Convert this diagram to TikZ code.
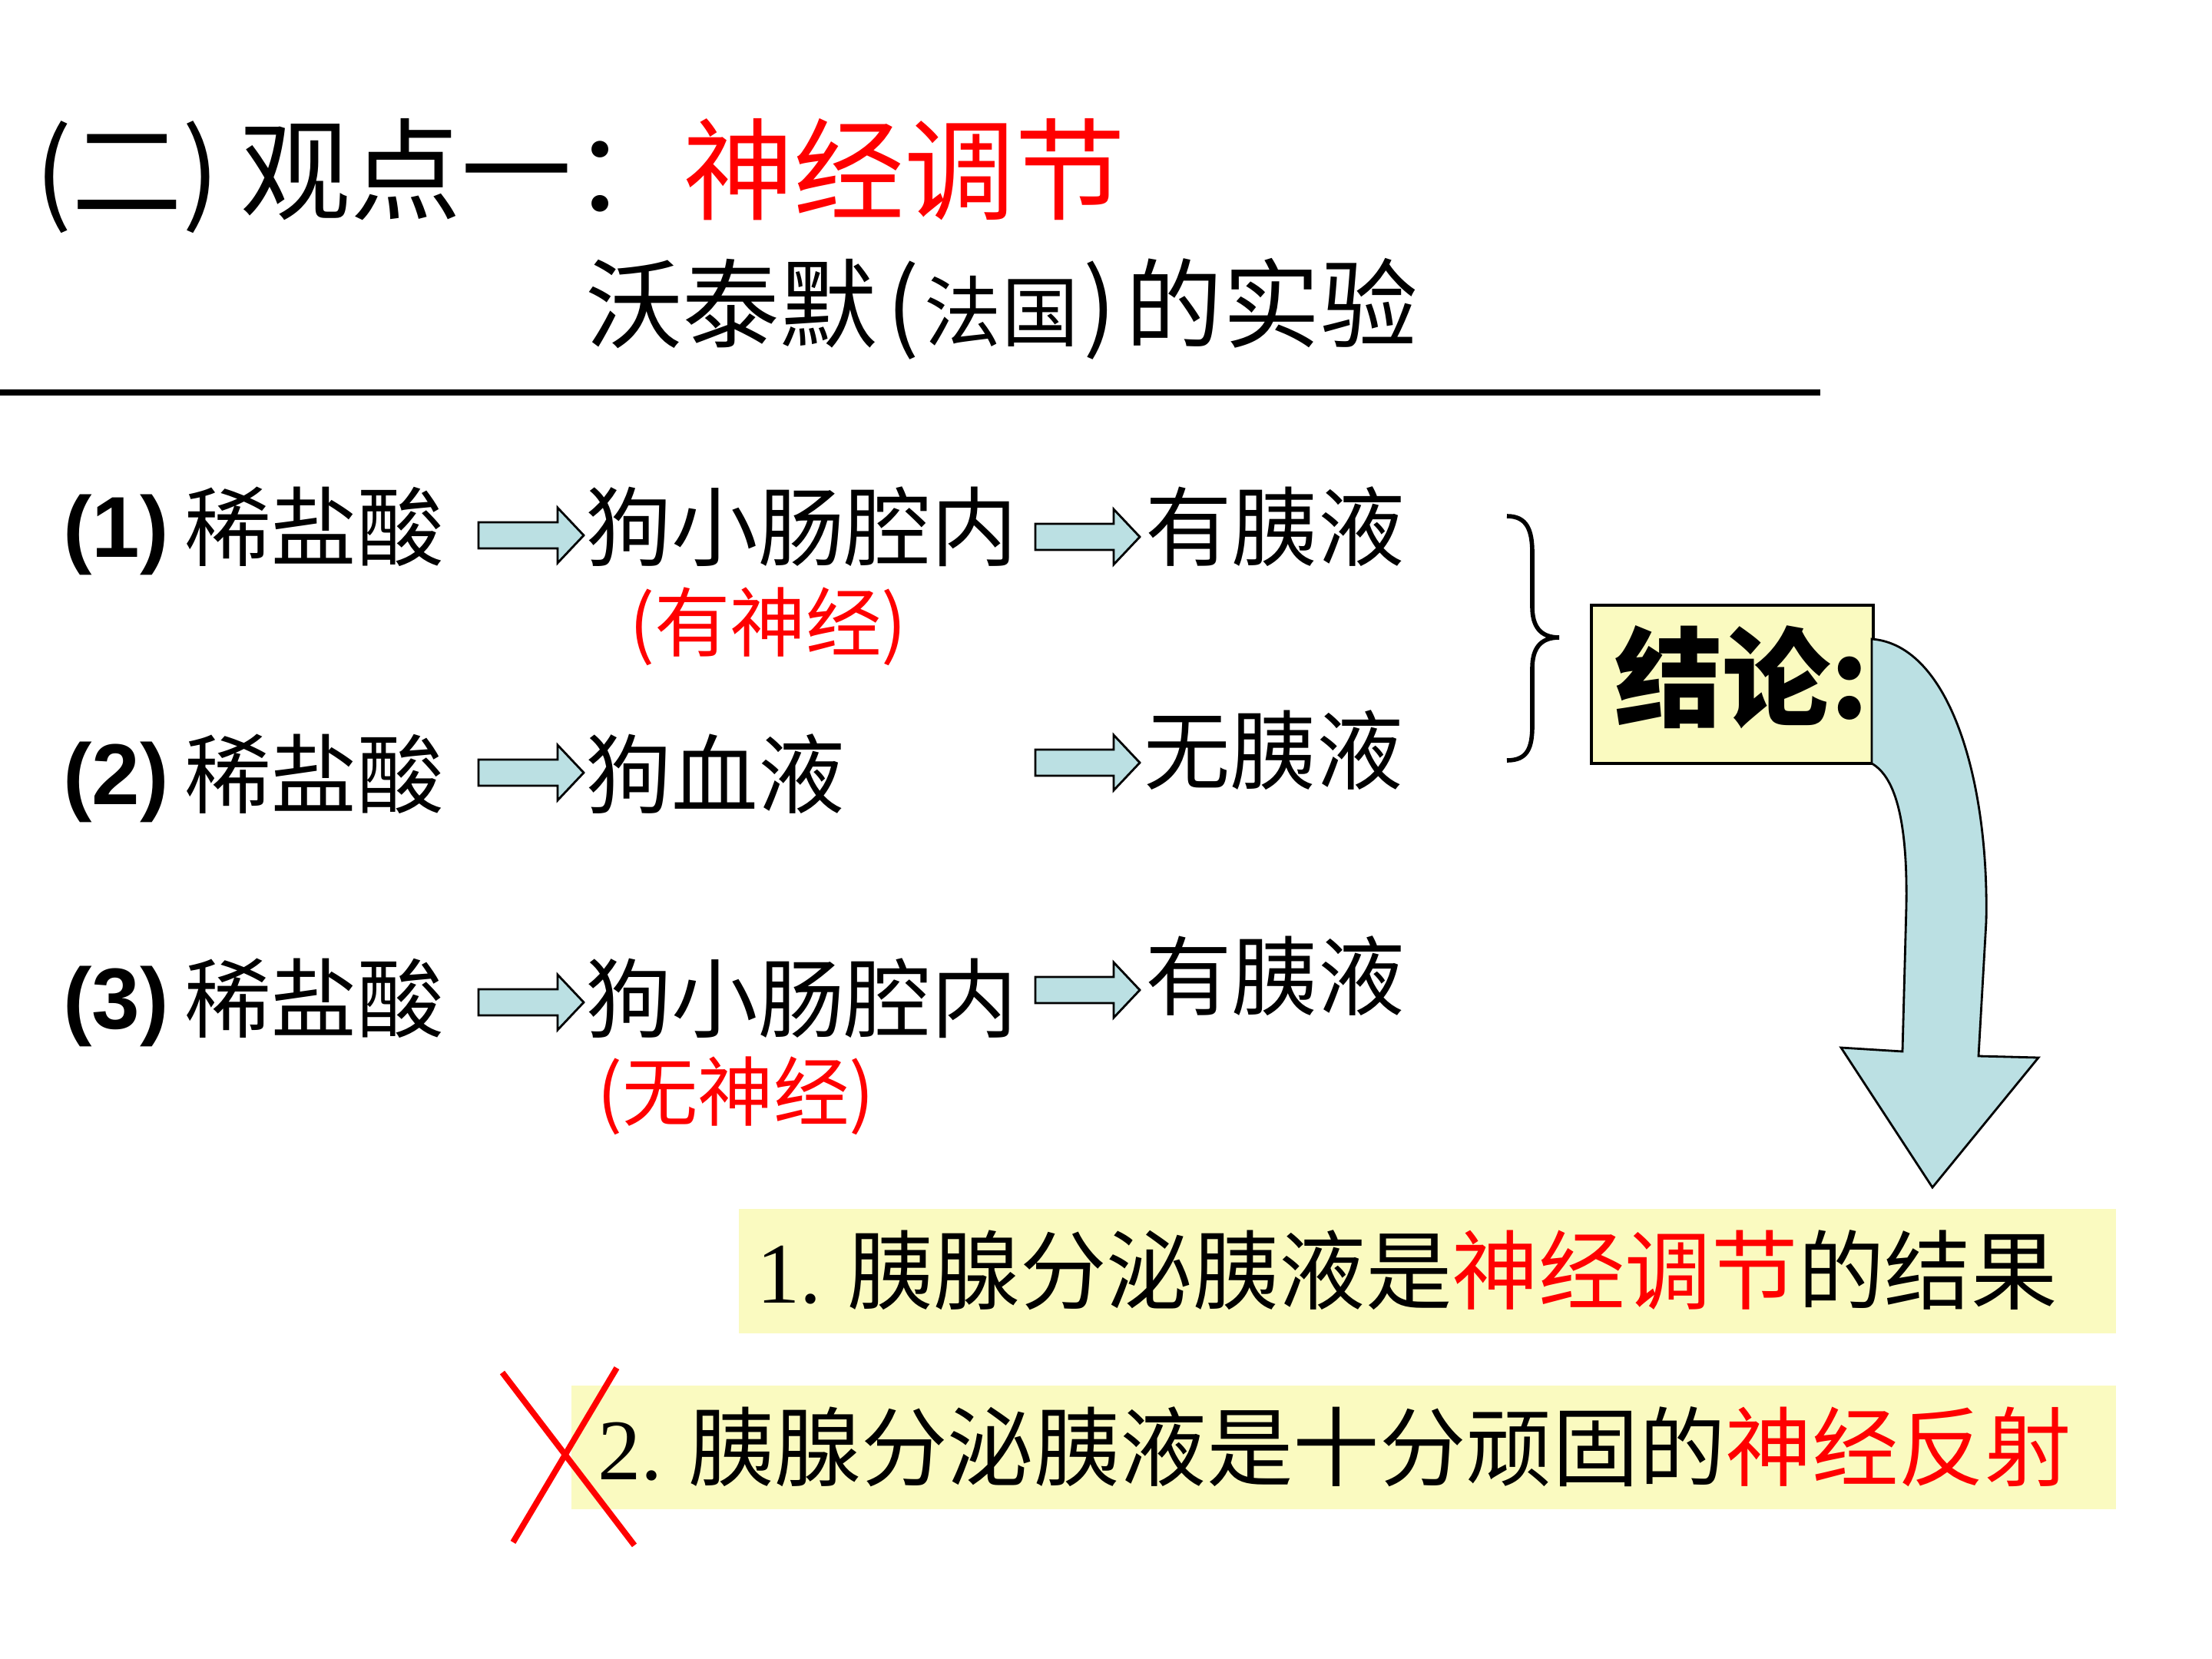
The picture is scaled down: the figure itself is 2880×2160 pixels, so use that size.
\documentclass[tikz,border=0pt]{standalone}
\usepackage{fontspec}
\setmainfont{Noto Sans CJK SC}
\newfontfamily\labfont{Liberation Sans}
\newfontfamily\numfont{Liberation Serif}
\definecolor{arrowblue}{HTML}{BBE0E3}
\definecolor{paleyellow}{HTML}{FAFAC0}
\definecolor{myred}{HTML}{FF0000}
\newcommand\setfs[1]{\fontsize{#1}{#1}\selectfont}
\newcommand\blockarrow[3]{%
  \draw[barrow] (#1,#3-17) -- (#2-34,#3-17) -- (#2-34,#3-36) -- (#2,#3)
    -- (#2-34,#3+36) -- (#2-34,#3+17) -- (#1,#3+17) -- cycle;}
\begin{document}
\begin{tikzpicture}[x=0.01cm,y=-0.01cm,
  txt/.style={inner sep=0,outer sep=0,anchor=base west},
  ctxt/.style={inner sep=0,outer sep=0,anchor=base},
  rowtxt/.style={txt,font=\setfs{32pt}},
  lab/.style={txt,font=\labfont\bfseries\setfs{32pt}},
  note/.style={ctxt,font=\setfs{28pt},text=myred},
  barrow/.style={draw=black,line width=0.8pt,fill=arrowblue,line join=miter},
  ybox/.style={fill=paleyellow,draw=none}]
\useasboundingbox[fill=white] (0,0) rectangle (2880,2160);

% title
\node[txt,font=\setfs{41pt}] (title) at (45,275)
  {(二)\kern0.18em 观点一：\textcolor{myred}{神经调节}};
\node[ctxt,font=\setfs{36pt}] (sub) at (1304,443)
  {沃泰默\kern0.1em(\kern0.05em{\setfs{28.5pt}法国}\kern0.05em)\kern0.1em 的实验};
\draw[line width=2pt] (0,511) -- (2370,511);

% row 1
\node[lab] (l1) at (82,725) {(1)};
\node[rowtxt] (a1) at (240,728) {稀盐酸};
\blockarrow{623}{760}{697}
\node[rowtxt] (b1) at (762,728) {狗小肠腔内};
\blockarrow{1348}{1484}{699}
\node[rowtxt] (c1) at (1491,728) {有胰液};
\node[note] (n1) at (1000,847) {(有神经)};

% row 2
\node[lab] (l2) at (82,1047) {(2)};
\node[rowtxt] (a2) at (240,1050) {稀盐酸};
\blockarrow{623}{760}{1006}
\node[rowtxt] (b2) at (762,1050) {狗血液};
\blockarrow{1348}{1484}{993}
\node[rowtxt] (c2) at (1489,1019) {无胰液};

% row 3
\node[lab] (l3) at (82,1339) {(3)};
\node[rowtxt] (a3) at (240,1342) {稀盐酸};
\blockarrow{623}{760}{1305}
\node[rowtxt] (b3) at (762,1342) {狗小肠腔内};
\blockarrow{1348}{1484}{1289}
\node[rowtxt] (c3) at (1491,1313) {有胰液};
\node[note] (n3) at (958,1458) {(无神经)};

% brace
\draw[line width=1.6pt] (1962,672) .. controls (1988,672) and (1995,690) .. (1995,720)
  -- (1995,790) .. controls (1995,815) and (2005,830) .. (2030,830)
  .. controls (2005,830) and (1995,845) .. (1995,870)
  -- (1995,945) .. controls (1995,975) and (1988,990) .. (1962,990);

% conclusion box
\node[draw=black,line width=1.2pt,fill=paleyellow,inner sep=0,
  minimum width=3.67cm,minimum height=2.06cm,anchor=north west]
  (concl) at (2070,786) {};
\node[txt,font=\bfseries\setfs{40pt}] (concltxt) at (2102,935) {结论:};

% curved arrow
\draw[barrow] (2437,832) .. controls (2540,840) and (2590,1020) .. (2586,1200)
  -- (2576,1375) -- (2654,1377) -- (2516,1546) -- (2397,1364) -- (2477,1369)
  -- (2482,1180) .. controls (2484,1060) and (2465,1010) .. (2437,994) -- cycle;

% results
\fill[ybox] (962,1574) rectangle (2755,1736);
\node[txt,font=\setfs{32pt}] (r1) at (985,1696)
  {{\numfont 1.}\kern0.3em 胰腺分泌胰液是\textcolor{myred}{神经调节}的结果};
\fill[ybox] (744,1804) rectangle (2755,1965);
\node[txt,font=\setfs{32pt}] (r2) at (778,1926)
  {{\numfont 2.}\kern0.3em 胰腺分泌胰液是十分顽固的\textcolor{myred}{神经反射}};

% red cross
\draw[myred,line width=2.2pt] (654,1787) -- (826,2012);
\draw[myred,line width=2.2pt] (803,1781) -- (668,2008);
\end{tikzpicture}
\end{document}
